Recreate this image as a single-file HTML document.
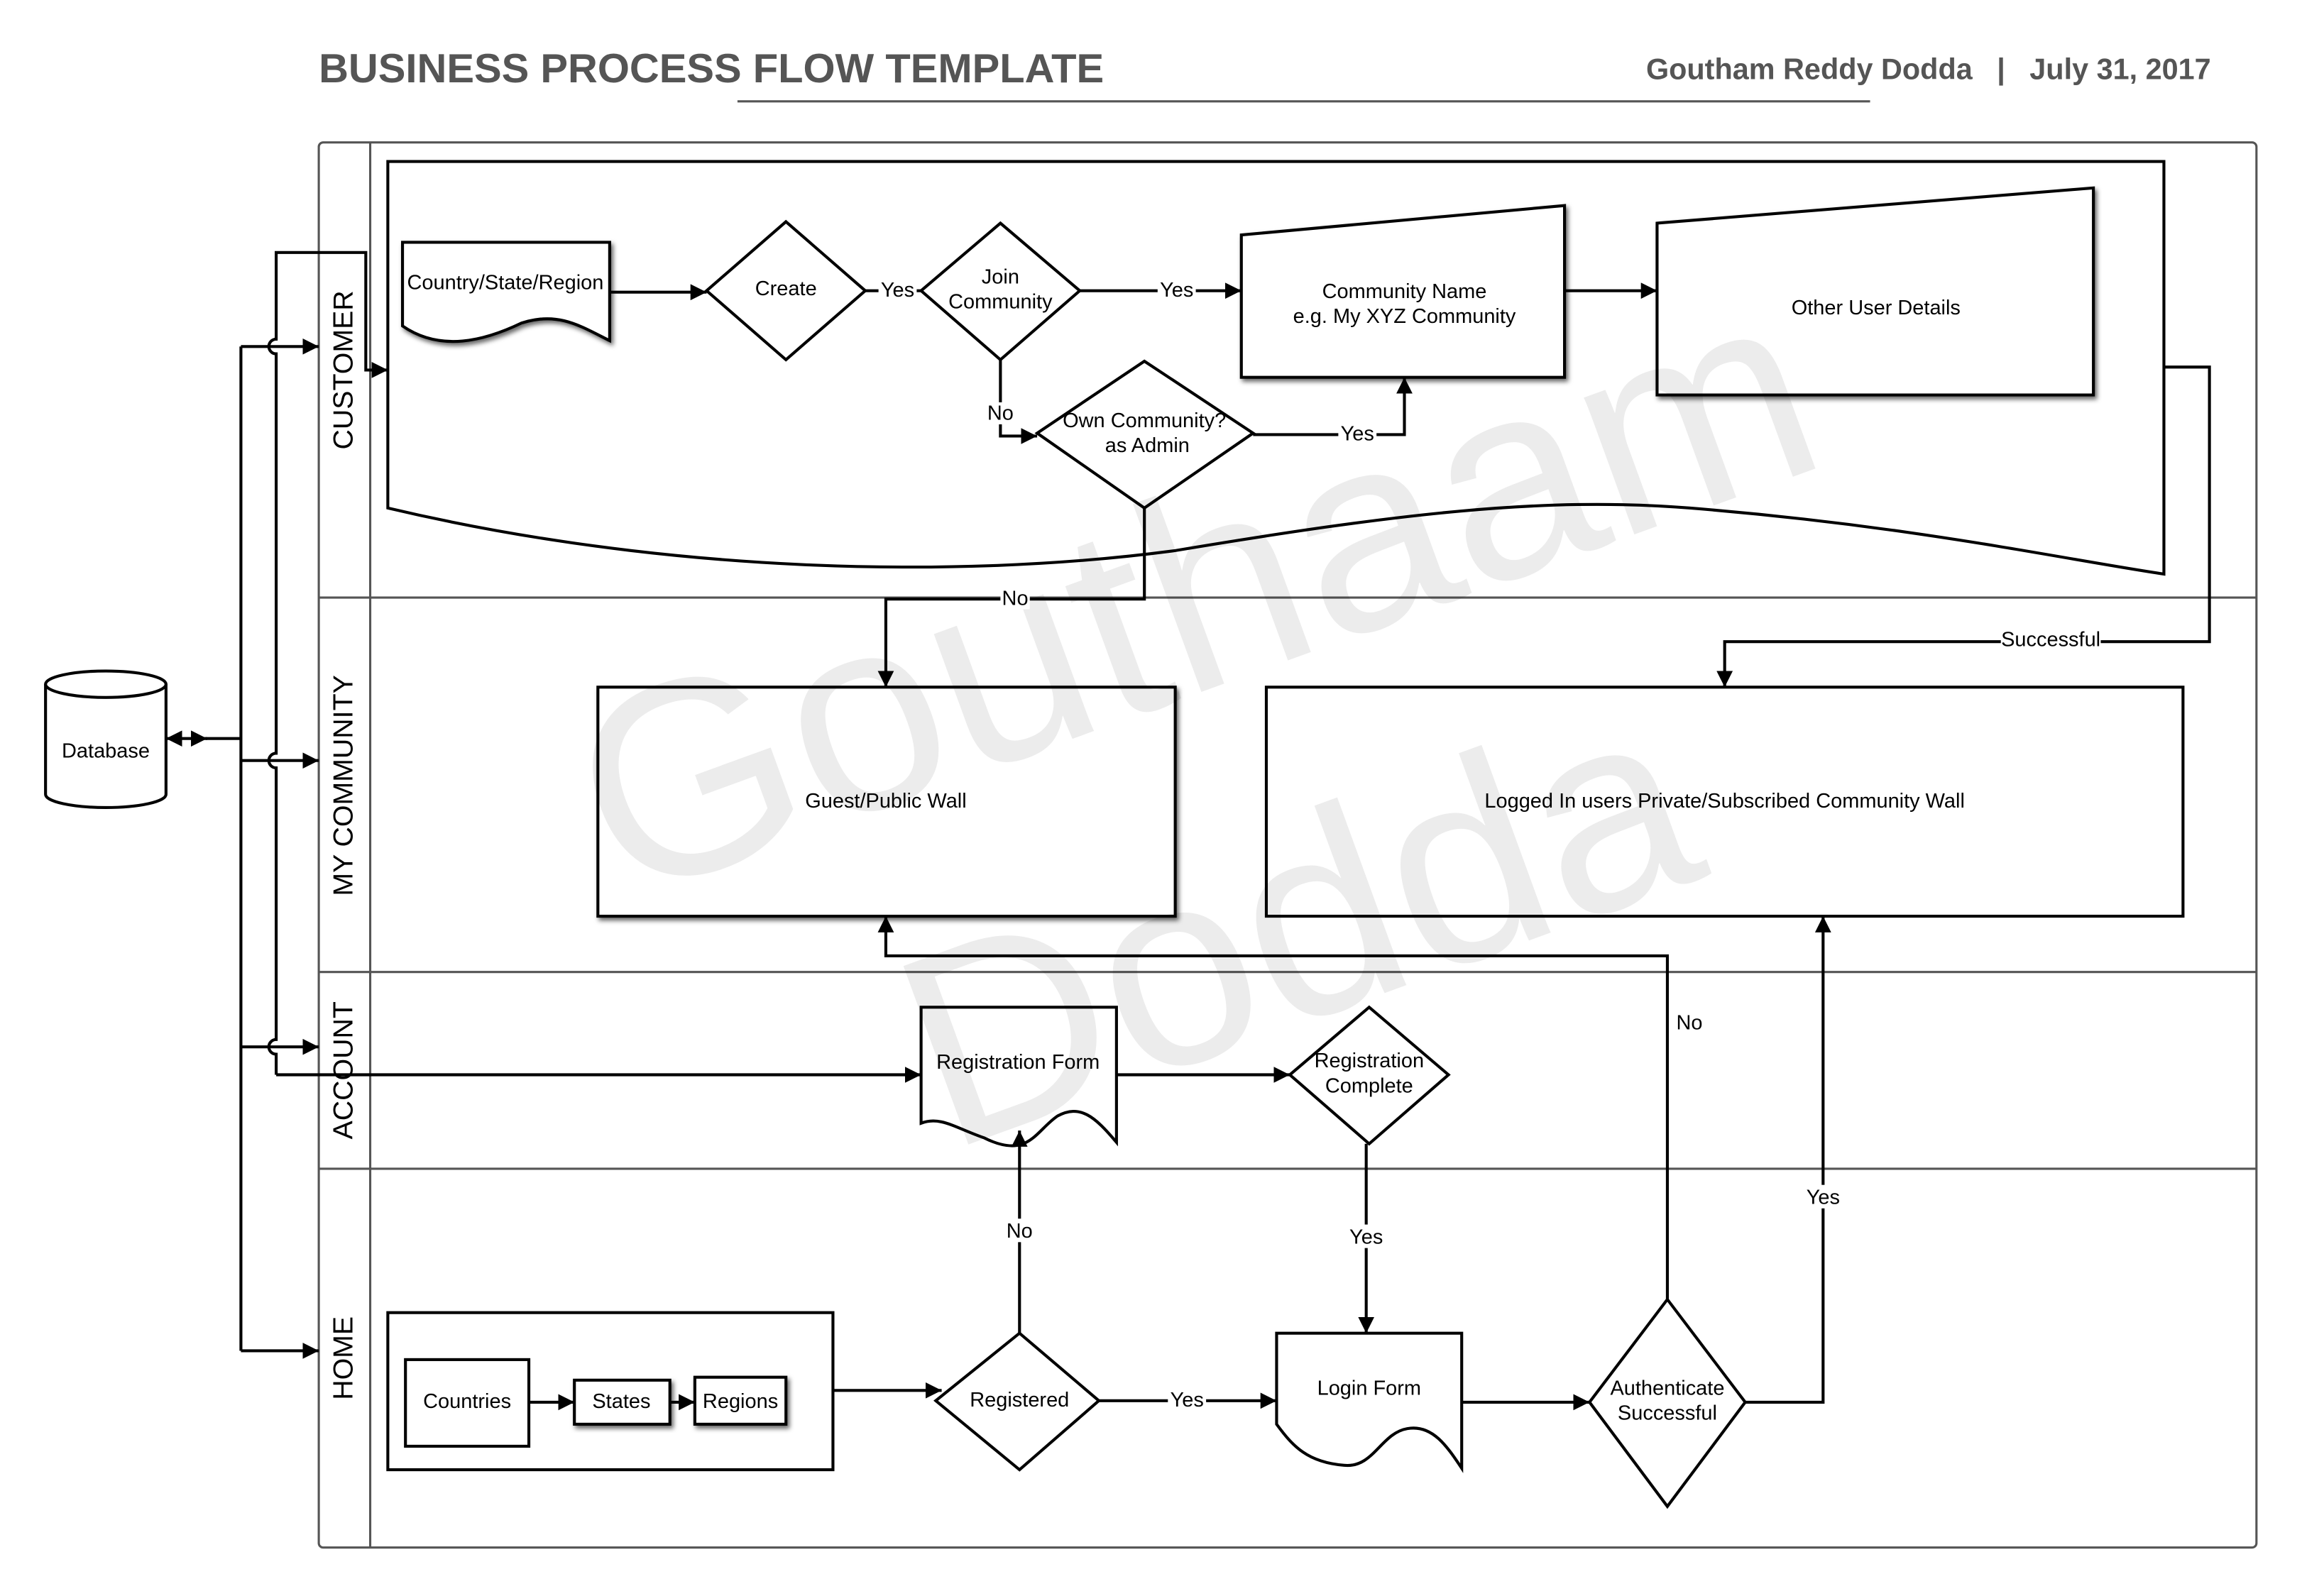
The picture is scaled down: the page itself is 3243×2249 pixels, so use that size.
<!DOCTYPE html>
<html><head><meta charset="utf-8"><style>
html,body{margin:0;padding:0;background:#fff}
svg{display:block}
text{font-family:"Liberation Sans",Arial,sans-serif;fill:#000}
</style></head><body>
<svg width="3243" height="2249" viewBox="0 0 1567 1087" preserveAspectRatio="none" xmlns="http://www.w3.org/2000/svg">
<defs>
<marker id="a" viewBox="0 0 10 10" refX="10" refY="5" markerWidth="5.5" markerHeight="5.5" orient="auto-start-reverse"><path d="M0,0 L10,5 L0,10 z" fill="#000"/></marker>
<filter id="sh" x="-10%" y="-10%" width="130%" height="130%"><feDropShadow dx="1.5" dy="2" stdDeviation="1.5" flood-color="#000" flood-opacity="0.6"/></filter>
</defs>
<text x="217" y="56" font-size="28" font-weight="bold" style="fill:#555">BUSINESS PROCESS FLOW TEMPLATE</text>
<text x="1505" y="54" font-size="20" font-weight="bold" text-anchor="end" style="fill:#555" xml:space="preserve">Goutham Reddy Dodda   |   July 31, 2017</text>
<line x1="502" y1="69" x2="1273" y2="69" stroke="#555" stroke-width="1.5"/>
<g stroke="#555" stroke-width="1.5" fill="none">
<rect x="217" y="97" width="1319" height="957" rx="3"/>
<line x1="252" y1="97" x2="252" y2="1054"/>
<line x1="217" y1="407" x2="1536" y2="407"/>
<line x1="217" y1="662" x2="1536" y2="662"/>
<line x1="217" y1="796" x2="1536" y2="796"/>
</g>
<g font-size="19" text-anchor="middle">
<text transform="translate(240 252) rotate(-90)">CUSTOMER</text>
<text transform="translate(240 535) rotate(-90)">MY COMMUNITY</text>
<text transform="translate(240 729) rotate(-90)">ACCOUNT</text>
<text transform="translate(240 925) rotate(-90)">HOME</text>
</g>
<g stroke="#000" stroke-width="2" fill="none">
<path d="M264,346 L264,110 L1473,110 L1473,391 C1400,380 1300,358 1150,346 C1050,338 950,350 800,375 C650,395 450,390 264,346 Z" fill="none"/>
<path d="M31,466 L31,541 A41,9 0 0 0 113,541 L113,466" fill="#fff"/>
<ellipse cx="72" cy="466" rx="41" ry="9" fill="#fff"/>
</g>
<text x="72" y="516" font-size="14" text-anchor="middle">Database</text>
<g stroke="#000" stroke-width="2" fill="#fff">
<path filter="url(#sh)" d="M274,165 L415,165 L415,232 C395,222 380,212 355,220 C330,232 300,240 274,222 Z"/>
<polygon filter="url(#sh)" points="845,160 1065,140 1065,257 845,257"/>
<polygon filter="url(#sh)" points="1128,152 1425,128 1425,269 1128,269"/>
<rect filter="url(#sh)" x="407" y="468" width="393" height="156"/>
<rect x="862" y="468" width="624" height="156"/>
<polygon points="535,151 589,198 535,245 481,198"/>
<polygon points="681,152 735,198 681,245 627,198"/>
<polygon points="779,246 853,295 779,346 706,295"/>
<path d="M627,686 L760,686 L760,778 C745,760 735,752 720,760 C705,770 700,790 670,775 C650,768 640,760 627,765 Z"/>
<polygon points="932,686 986,732 932,779 878,732"/>
<rect x="264" y="894" width="303" height="107"/>
<rect x="276" y="926" width="84" height="59"/>
<rect filter="url(#sh)" x="391" y="940" width="65" height="30"/>
<rect filter="url(#sh)" x="473" y="938" width="62" height="32"/>
<polygon points="694,908 748,954 694,1001 637,954"/>
<path d="M869,908 L995,908 L995,1000 C985,985 975,970 958,973 C940,976 935,1000 915,998 C890,996 880,985 869,970 Z"/>
<polygon points="1135,885 1188,955 1135,1026 1082,955"/>
</g>
<!-- watermark on top, translucent -->
<g font-size="188" style="fill-opacity:0.075">
<text x="835" y="465" text-anchor="middle" transform="rotate(-20 835 465)">Gouthaam</text>
<text x="905" y="690" text-anchor="middle" transform="rotate(-20 905 690)">Dodda</text>
</g>
<g stroke="#000" stroke-width="2" fill="none">
<line x1="415" y1="199" x2="481" y2="199" marker-end="url(#a)"/>
<line x1="589" y1="198" x2="627" y2="198"/>
<line x1="735" y1="198" x2="845" y2="198" marker-end="url(#a)"/>
<line x1="1065" y1="198" x2="1128" y2="198" marker-end="url(#a)"/>
<polyline points="681,245 681,297 706,297" marker-end="url(#a)"/>
<polyline points="853,296 956,296 956,257" marker-end="url(#a)"/>
<polyline points="779,346 779,408 603,408 603,468" marker-end="url(#a)"/>
<polyline points="1473,250 1504,250 1504,437 1174,437 1174,468" marker-end="url(#a)"/>
<line x1="164" y1="503" x2="113" y2="503" marker-end="url(#a)"/>
<line x1="140" y1="503" x2="141" y2="503" marker-end="url(#a)"/>
<line x1="164" y1="236" x2="164" y2="920"/>
<line x1="164" y1="236" x2="217" y2="236" marker-end="url(#a)"/>
<line x1="164" y1="518" x2="217" y2="518" marker-end="url(#a)"/>
<line x1="164" y1="713" x2="217" y2="713" marker-end="url(#a)"/>
<line x1="164" y1="920" x2="217" y2="920" marker-end="url(#a)"/>
<path d="M188,732 L188,718 A5,5 0 0 1 188,708 L188,523 A5,5 0 0 1 188,513 L188,241 A5,5 0 0 1 188,231 L188,172 L249,172 L249,252 L264,252" marker-end="url(#a)"/>
<line x1="188" y1="732" x2="627" y2="732" marker-end="url(#a)"/>
<line x1="760" y1="732" x2="878" y2="732" marker-end="url(#a)"/>
<line x1="930" y1="779" x2="930" y2="908" marker-end="url(#a)"/>
<line x1="360" y1="955" x2="391" y2="955" marker-end="url(#a)"/>
<line x1="456" y1="955" x2="473" y2="955" marker-end="url(#a)"/>
<line x1="567" y1="947" x2="641" y2="947" marker-end="url(#a)"/>
<line x1="694" y1="908" x2="694" y2="770" marker-end="url(#a)"/>
<line x1="748" y1="954" x2="869" y2="954" marker-end="url(#a)"/>
<line x1="995" y1="955" x2="1082" y2="955" marker-end="url(#a)"/>
<polyline points="1135,885 1135,651 603,651 603,624" marker-end="url(#a)"/>
<polyline points="1188,955 1241,955 1241,624" marker-end="url(#a)"/>
</g>
<g font-size="14" text-anchor="middle">
<text x="344" y="197">Country/State/Region</text>
<text x="535" y="201">Create</text>
<text x="681" y="193">Join</text>
<text x="681" y="210">Community</text>
<text x="956" y="203">Community Name</text>
<text x="956" y="220">e.g. My XYZ Community</text>
<text x="1277" y="214">Other User Details</text>
<text x="779" y="291">Own Community?</text>
<text x="781" y="308">as Admin</text>
<text x="603" y="550">Guest/Public Wall</text>
<text x="1174" y="550">Logged In users Private/Subscribed Community Wall</text>
<text x="693" y="728">Registration Form</text>
<text x="932" y="727">Registration</text>
<text x="932" y="744">Complete</text>
<text x="318" y="959">Countries</text>
<text x="423" y="959">States</text>
<text x="504" y="959">Regions</text>
<text x="694" y="958">Registered</text>
<text x="932" y="950">Login Form</text>
<text x="1135" y="950">Authenticate</text>
<text x="1135" y="967">Successful</text>
</g>
<g font-size="14" text-anchor="middle">
<rect x="598" y="190" width="26" height="15" fill="#fff"/><text x="611" y="202">Yes</text>
<rect x="788" y="190" width="26" height="15" fill="#fff"/><text x="801" y="202">Yes</text>
<rect x="671" y="274" width="20" height="15" fill="#fff"/><text x="681" y="286">No</text>
<rect x="911" y="288" width="26" height="15" fill="#fff"/><text x="924" y="300">Yes</text>
<rect x="681" y="400" width="20" height="15" fill="#fff"/><text x="691" y="412">No</text>
<rect x="1362" y="428" width="68" height="15" fill="#fff"/><text x="1396" y="440">Successful</text>
<rect x="684" y="830" width="20" height="16" fill="#fff"/><text x="694" y="843">No</text>
<rect x="917" y="834" width="26" height="16" fill="#fff"/><text x="930" y="847">Yes</text>
<rect x="795" y="946" width="26" height="15" fill="#fff"/><text x="808" y="958">Yes</text>
<text x="1150" y="701">No</text>
<rect x="1228" y="807" width="26" height="16" fill="#fff"/><text x="1241" y="820">Yes</text>
</g>
</svg>
</body></html>
